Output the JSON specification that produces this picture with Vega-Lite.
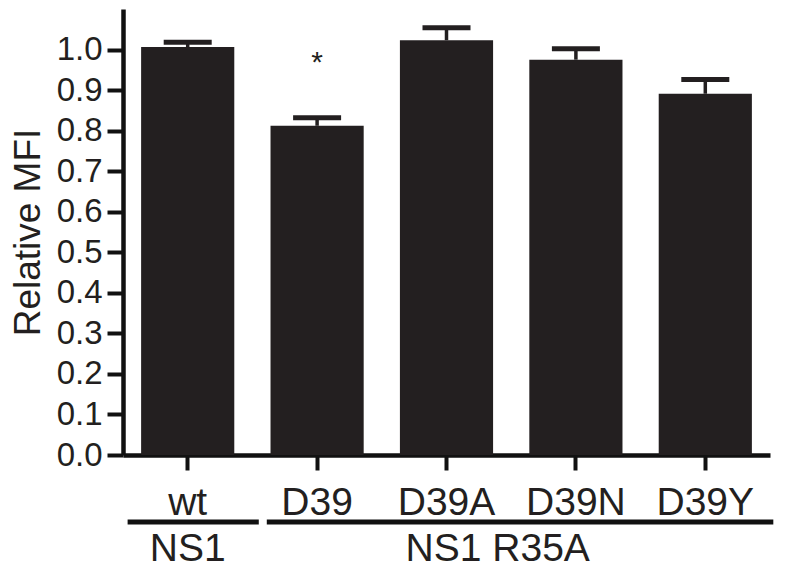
{
  "$schema": "https://vega.github.io/schema/vega-lite/v6.json",
  "width": 647,
  "height": 446,
  "autosize": {"type": "none"},
  "padding": {"left": 123, "top": 9, "right": 30, "bottom": 116},
  "background": "white",
  "config": {
    "view": {"stroke": null},
    "font": "Liberation Sans",
    "axisY": {
      "domainColor": "#111111", "domainWidth": 4.5,
      "tickColor": "#111111", "tickWidth": 4, "tickSize": 16,
      "labelFontSize": 33, "labelColor": "#231f20", "labelPadding": 5,
      "titleFontSize": 37, "titleFontWeight": "normal", "titleColor": "#231f20", "titlePadding": 9,
      "grid": false
    },
    "axisX": {
      "domainColor": "#111111", "domainWidth": 4.5,
      "tickColor": "#111111", "tickWidth": 4, "tickSize": 15,
      "labelFontSize": 39, "labelColor": "#231f20", "labelPadding": 13, "labelAngle": 0,
      "grid": false
    }
  },
  "datasets": {
    "bars": [
      {"group": "wt", "mean": 1.006, "upper": 1.018},
      {"group": "D39", "mean": 0.812, "upper": 0.832},
      {"group": "D39A", "mean": 1.023, "upper": 1.054},
      {"group": "D39N", "mean": 0.975, "upper": 1.002},
      {"group": "D39Y", "mean": 0.891, "upper": 0.926}
    ],
    "stars": [{"group": "D39", "pos": 0.945, "label": "*"}],
    "ns1": [{"group": "wt", "group2": "wt", "line": -0.165, "text": -0.262, "label": "NS1"}],
    "r35a": [{"group": "D39", "group2": "D39Y", "line": -0.165, "text": -0.262, "label": "NS1 R35A", "center": "D39A"}]
  },
  "layer": [
    {
      "data": {"name": "bars"},
      "mark": {"type": "bar", "color": "#231f20"},
      "encoding": {
        "x": {"field": "group", "type": "nominal", "title": null, "sort": null,
              "scale": {"domain": ["wt", "D39", "D39A", "D39N", "D39Y"], "paddingInner": 0.28, "paddingOuter": 0.14}},
        "y": {"field": "mean", "type": "quantitative", "title": "Relative MFI",
              "scale": {"domain": [0, 1.1], "nice": false, "zero": true},
              "axis": {"values": [0, 0.1, 0.2, 0.3, 0.4, 0.5, 0.6, 0.7, 0.8, 0.9, 1.0], "format": ".1f"}}
      }
    },
    {
      "data": {"name": "bars"},
      "mark": {"type": "rule", "color": "#231f20", "strokeWidth": 3.5},
      "encoding": {
        "x": {"field": "group", "type": "nominal", "title": null, "sort": null},
        "y": {"field": "mean", "type": "quantitative", "title": "Relative MFI"},
        "y2": {"field": "upper"}
      }
    },
    {
      "data": {"name": "bars"},
      "mark": {"type": "tick", "color": "#231f20", "opacity": 1, "size": 48, "thickness": 5, "orient": "horizontal"},
      "encoding": {
        "x": {"field": "group", "type": "nominal", "title": null, "sort": null},
        "y": {"field": "upper", "type": "quantitative", "title": "Relative MFI"}
      }
    },
    {
      "data": {"name": "stars"},
      "mark": {"type": "text", "fontSize": 30, "color": "#231f20", "baseline": "alphabetic", "align": "center"},
      "encoding": {
        "x": {"field": "group", "type": "nominal", "title": null, "sort": null},
        "y": {"field": "pos", "type": "quantitative", "title": "Relative MFI"},
        "text": {"field": "label"}
      }
    },
    {
      "data": {"name": "ns1"},
      "mark": {"type": "rule", "color": "#111111", "strokeWidth": 5},
      "encoding": {
        "x": {"field": "group", "type": "nominal", "title": null, "sort": null, "bandPosition": -0.145},
        "x2": {"field": "group2", "bandPosition": 1.263},
        "y": {"field": "line", "type": "quantitative", "title": "Relative MFI"}
      }
    },
    {
      "data": {"name": "r35a"},
      "mark": {"type": "rule", "color": "#111111", "strokeWidth": 5},
      "encoding": {
        "x": {"field": "group", "type": "nominal", "title": null, "sort": null, "bandPosition": -0.04},
        "x2": {"field": "group2", "bandPosition": 1.23},
        "y": {"field": "line", "type": "quantitative", "title": "Relative MFI"}
      }
    },
    {
      "data": {"name": "ns1"},
      "mark": {"type": "text", "fontSize": 39, "color": "#231f20", "baseline": "alphabetic", "align": "center"},
      "encoding": {
        "x": {"field": "group", "type": "nominal", "title": null, "sort": null, "bandPosition": 0.5},
        "y": {"field": "text", "type": "quantitative", "title": "Relative MFI"},
        "text": {"field": "label"}
      }
    },
    {
      "data": {"name": "r35a"},
      "mark": {"type": "text", "fontSize": 39, "color": "#231f20", "baseline": "alphabetic", "align": "center"},
      "encoding": {
        "x": {"field": "center", "type": "nominal", "title": null, "sort": null, "bandPosition": 1.05},
        "y": {"field": "text", "type": "quantitative", "title": "Relative MFI"},
        "text": {"field": "label"}
      }
    }
  ]
}
